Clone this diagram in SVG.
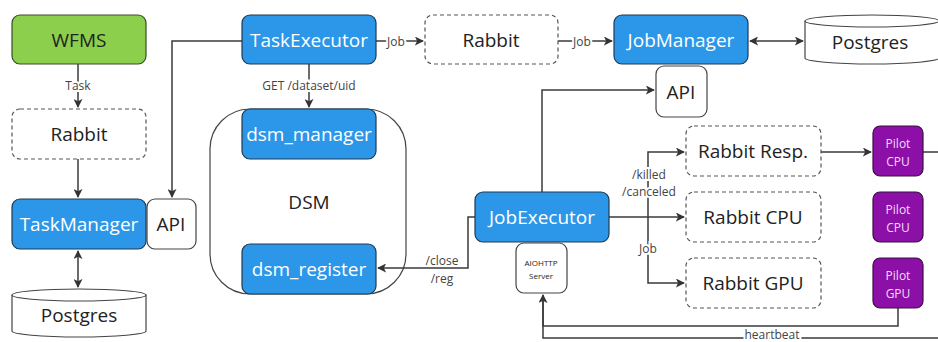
<svg xmlns="http://www.w3.org/2000/svg" width="938" height="342" viewBox="0 0 938 342">
<defs>
<marker id="arr" viewBox="0 0 10 10" refX="9" refY="5" markerWidth="9" markerHeight="9" markerUnits="userSpaceOnUse" orient="auto-start-reverse">
<path d="M0,0 L10,5 L0,10 L2.5,5 Z" fill="#333"/>
</marker>
</defs>
<style>
text{font-family:"Open Sans","Noto Sans","DejaVu Sans",sans-serif;text-anchor:middle;dominant-baseline:central}
.blue rect{fill:#2c97e8;stroke:#1f3a52;stroke-width:1.2}
.blue text{fill:#fff;font-size:19px}
.green rect{fill:#8ccf4c;stroke:#3a4a2a;stroke-width:1.2}
.green text{fill:#222;font-size:19px}
.dash rect{fill:#fff;stroke:#555;stroke-width:1.2;stroke-dasharray:4 3}
.dash text{fill:#222;font-size:19px}
.white rect{fill:#fff;stroke:#444;stroke-width:1.2}
.white text{fill:#222;font-size:19px}
.pilot rect{fill:#8c10a8;stroke:#3a1040;stroke-width:1.2}
.pilot text{fill:#f4dcf8;font-size:12px}
.db path{fill:#fff;stroke:#444;stroke-width:1.2}
.db text{fill:#222;font-size:19px}
.conn path{fill:none;stroke:#3a3a3a;stroke-width:1.5}
.lbl{fill:#444;font-size:12px;stroke:#fff;stroke-width:4;paint-order:stroke}
</style>

<g id="dsm">
<rect x="210" y="109" width="196" height="185" rx="40" fill="#fff" stroke="#444" stroke-width="1.2"/>
<text x="309" y="202" font-size="19" fill="#222">DSM</text>
</g>

<g class="conn" id="connectors">
<path d="M78,64 V107" marker-end="url(#arr)"/>
<path d="M78,159 V197" marker-end="url(#arr)"/>
<path d="M78,251 V287" marker-start="url(#arr)" marker-end="url(#arr)"/>
<path d="M242,41 H172 V197" marker-end="url(#arr)"/>
<path d="M376,41 H423" marker-end="url(#arr)"/>
<path d="M558,41 H612" marker-end="url(#arr)"/>
<path d="M750,41 H803" marker-start="url(#arr)" marker-end="url(#arr)"/>
<path d="M309,64 V107" marker-end="url(#arr)"/>
<path d="M475,217 H468 V268 H378" marker-end="url(#arr)"/>
<path d="M542,192 V90 H654" marker-end="url(#arr)"/>
<path d="M609,217 H684" marker-end="url(#arr)"/>
<path d="M648,217 V152 H684" marker-end="url(#arr)"/>
<path d="M648,217 V283 H684" marker-end="url(#arr)"/>
<path d="M821,152 H871" marker-end="url(#arr)"/>
<path d="M923,152 H938"/>
<path d="M898,308 V326 H543 V295" marker-end="url(#arr)"/>
<path d="M938,338 H543 V300"/>
<text class="lbl" x="78" y="85">Task</text>
<text class="lbl" x="396" y="41">Job</text>
<text class="lbl" x="582" y="41">Job</text>
<text class="lbl" x="309" y="85">GET /dataset/uid</text>
<text class="lbl" x="442" y="260">/close</text>
<text class="lbl" x="442" y="278">/reg</text>
<text class="lbl" x="649" y="174">/killed</text>
<text class="lbl" x="649" y="191">/canceled</text>
<text class="lbl" x="648" y="248">Job</text>
<text class="lbl" x="772" y="334">heartbeat</text>
</g>

<g id="wfms" class="green"><rect x="12" y="15" width="134" height="49" rx="8"/><text x="79" y="40">WFMS</text></g>
<g id="rabbit-task" class="dash"><rect x="12" y="109" width="134" height="50" rx="8"/><text x="79" y="134">Rabbit</text></g>
<g id="taskmanager" class="blue"><rect x="12" y="199" width="134" height="50" rx="8"/><text x="79" y="224">TaskManager</text></g>
<g id="tm-api" class="white"><rect x="147" y="199" width="49" height="50" rx="8"/><text x="171" y="224">API</text></g>
<g id="postgres-tm" class="db">
<path d="M12,295 A67,6 0 0 1 146,295 V331 A67,6 0 0 1 12,331 Z"/>
<path d="M12,295 A67,6 0 0 0 146,295"/>
<text x="79" y="315">Postgres</text>
</g>
<g id="taskexecutor" class="blue"><rect x="242" y="15" width="134" height="49" rx="8"/><text x="309" y="40">TaskExecutor</text></g>
<g id="rabbit-job" class="dash"><rect x="425" y="15" width="133" height="49" rx="8"/><text x="491" y="40">Rabbit</text></g>
<g id="jobmanager" class="blue"><rect x="614" y="15" width="134" height="49" rx="8"/><text x="681" y="40">JobManager</text></g>
<g id="jm-api" class="white"><rect x="656" y="66" width="51" height="51" rx="8"/><text x="681" y="92">API</text></g>
<g id="postgres-jm" class="db">
<path d="M805,21 A67,6 0 0 1 939,21 V58 A67,6 0 0 1 805,58 Z"/>
<path d="M805,21 A67,6 0 0 0 939,21"/>
<text x="870" y="42">Postgres</text>
</g>
<g id="dsm_manager" class="blue"><rect x="242" y="109" width="134" height="50" rx="8"/><text x="309" y="134">dsm_manager</text></g>
<g id="dsm_register" class="blue"><rect x="242" y="244" width="134" height="50" rx="8"/><text x="309" y="269">dsm_register</text></g>
<g id="jobexecutor" class="blue"><rect x="475" y="192" width="134" height="50" rx="8"/><text x="542" y="217">JobExecutor</text></g>
<g id="aiohttp" class="white"><rect x="516" y="243" width="51" height="50" rx="8"/><text x="541" y="262" style="font-size:8px">AIOHTTP</text><text x="541" y="275" style="font-size:8px">Server</text></g>
<g id="rabbit-resp" class="dash"><rect x="686" y="126" width="135" height="50" rx="8"/><text x="753" y="151">Rabbit Resp.</text></g>
<g id="rabbit-cpu" class="dash"><rect x="686" y="192" width="135" height="50" rx="8"/><text x="753" y="217">Rabbit CPU</text></g>
<g id="rabbit-gpu" class="dash"><rect x="686" y="258" width="135" height="50" rx="8"/><text x="753" y="283">Rabbit GPU</text></g>
<g id="pilot-cpu-1" class="pilot"><rect x="873" y="126" width="50" height="50" rx="7"/><text x="898" y="143">Pilot</text><text x="898" y="161">CPU</text></g>
<g id="pilot-cpu-2" class="pilot"><rect x="873" y="192" width="50" height="50" rx="7"/><text x="898" y="209">Pilot</text><text x="898" y="227">CPU</text></g>
<g id="pilot-gpu" class="pilot"><rect x="873" y="258" width="50" height="50" rx="7"/><text x="898" y="275">Pilot</text><text x="898" y="293">GPU</text></g>
</svg>
